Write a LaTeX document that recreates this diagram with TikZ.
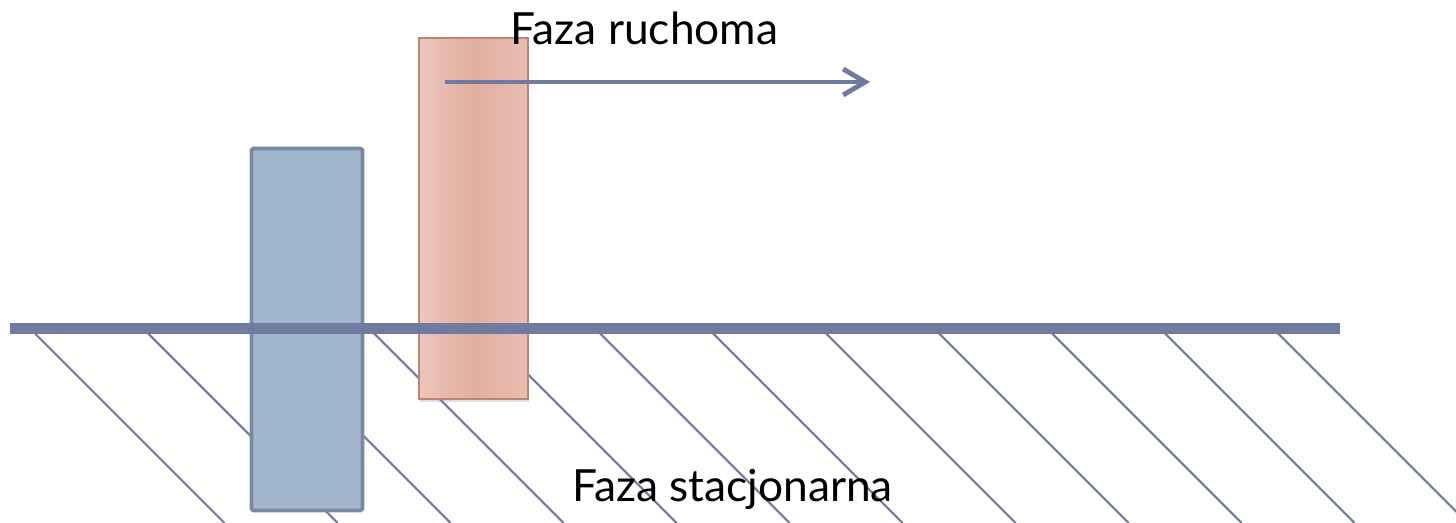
\documentclass[tikz,border=0pt]{standalone}
\usepackage{fontspec}
\setmainfont{Lato}
\usetikzlibrary{positioning,calc,arrows.meta,shadows}

\definecolor{phaseline}{RGB}{113,123,160}
\definecolor{bluefill}{RGB}{162,182,205}
\definecolor{blueedge}{RGB}{122,138,156}
\definecolor{rededge}{RGB}{192,132,114}
\definecolor{redlight}{RGB}{235,198,187}
\definecolor{redmid}{RGB}{226,174,159}
\definecolor{redright}{RGB}{232,190,178}

\begin{document}
\begin{tikzpicture}
\tikzset{hatch/.style={draw=phaseline,line width=0.6pt},
  stat/.style={draw=blueedge,line width=1.1pt,fill=bluefill,rounded corners=0.5pt,
    minimum width=1.11cm,minimum height=3.62cm,inner sep=0pt},
  mob/.style={draw=rededge,line width=0.7pt,
    left color=redlight,right color=redright,middle color=redmid,
    drop shadow={opacity=0.25,shadow xshift=0.4pt,shadow yshift=-0.8pt},
    minimum width=1.09cm,minimum height=3.61cm,inner sep=0pt},
  label/.style={font=\fontsize{12.6}{14}\selectfont,anchor=base,inner sep=0pt}};
   \useasboundingbox (0,0) rectangle (14.56,5.23);

   % hatching below the surface
   \begin{scope}
   \clip (0,0) rectangle (14.56,5.23);
   \foreach \i in {0,...,11}
      \draw[hatch] (0.30+1.13*\i,1.945) -- ++(1.945,-1.945);
   \end{scope}

   \node[stat] at (3.07,1.935) (blue) {};
   \node[mob] at (4.735,3.045) (red) {};

   \coordinate (surfL) at (0.10,1.945);
   \coordinate (surfR) at (13.40,1.945);
   \draw[phaseline,line width=3.1pt] (surfL) -- (surfR);

   \coordinate (flowA) at (4.45,4.41);
   \coordinate (flowB) at (8.70,4.41);
   \draw[phaseline,line width=1.4pt,-{Straight Barb[length=2.2mm,width=2.6mm]}] (flowA) -- (flowB);

   \node[label] at (6.445,4.78) (mobile) {Faza ruchoma};
   \node[label] at (7.325,0.21) (stationary) {Faza stacjonarna};

\end{tikzpicture}
\end{document}
